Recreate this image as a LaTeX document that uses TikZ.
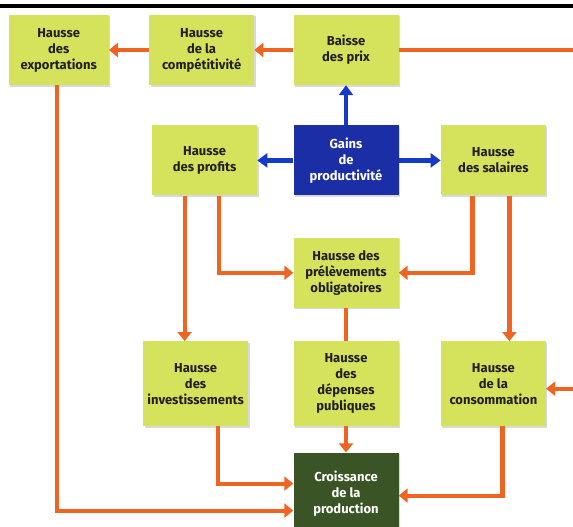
\documentclass[tikz,border=0pt]{standalone}
\usepackage{fontspec}
\setmainfont{Fira Sans}
\usepackage{xcolor}
\usepackage{tikz}
\usetikzlibrary{arrows.meta,positioning,shadows}

\definecolor{lime}{RGB}{213,226,92}
\definecolor{ink}{RGB}{35,31,32}
\definecolor{gainblue}{RGB}{28,46,165}
\definecolor{arrblue}{RGB}{22,58,200}
\definecolor{prodgreen}{RGB}{58,84,38}
\definecolor{flow}{RGB}{240,100,35}

\begin{document}
\begin{tikzpicture}[
    x=1pt, y=-1pt,
    font=\bfseries\fontsize{13}{16}\selectfont,
    box/.style={fill=lime, text=ink, align=center, minimum width=105pt, minimum height=70pt, inner sep=2pt,
                drop shadow={shadow xshift=1.5pt, shadow yshift=-1.5pt, opacity=0.3}},
    tallbox/.style={box, minimum height=85pt},
    gain/.style={box, fill=gainblue, text=white},
    prod/.style={box, fill=prodgreen, text=white, minimum height=82pt},
    oarr/.style={-{Triangle[width=14pt,length=9pt]}, draw=flow, line width=4.2pt},
    barr/.style={-{Triangle[width=14pt,length=10pt]}, draw=arrblue, line width=4.2pt},
    link/.style={draw=flow, line width=4.2pt}
]
\useasboundingbox (0,0) rectangle (573,527);
\draw[line width=3.5pt] (0,6) -- (573,6);

\node[box] (baisse) at (346,50) {Baisse\\des prix};
\node[box, left=39pt of baisse] (compet) {Hausse\\de la\\compétitivité};
\node[box, minimum width=100pt, left=40pt of compet] (export) {Hausse\\des\\exportations};

\node[gain, below=40pt of baisse] (gains) {Gains\\de\\productivité};
\node[box, left=36pt of gains] (profits) {Hausse\\des profits};
\node[box, right=42pt of gains] (salaires) {Hausse\\des salaires};

\node[box, below=42pt of gains] (prelev) {Hausse des\\prélèvements\\obligatoires};

\node[tallbox, below=33pt of prelev] (depenses) {Hausse\\des\\dépenses\\publiques};
\node[tallbox, left=45pt of depenses] (invest) {Hausse\\des\\investissements};
\node[tallbox, right=42pt of depenses] (conso) {Hausse\\de la\\consommation};

\node[prod, below=26pt of depenses] (croiss) {Croissance\\de la\\production};

\coordinate (rim) at (577,387);

% top row
\draw[oarr] (baisse) -- (compet);
\draw[oarr] (compet) -- (export);
\draw[oarr] (baisse.east) -| (rim) |- ([yshift=-5pt]conso.east);

% productivity gains
\draw[barr] (gains) -- (baisse);
\draw[barr] (gains) -- (profits);
\draw[barr] (gains) -- (salaires);

% shares
\draw[oarr] ([xshift=-20pt]profits.south) -- ([xshift=-20pt]profits.south |- invest.north);
\draw[oarr] ([xshift=14pt]profits.south) |- (prelev.west);
\draw[oarr] ([xshift=-21pt]salaires.south) |- (prelev.east);
\draw[oarr] ([xshift=16pt]salaires.south) -- ([xshift=16pt]salaires.south |- conso.north);
\draw[link] (prelev) -- (depenses);

% towards production
\draw[oarr] (depenses) -- (croiss);
\draw[oarr] ([xshift=22pt]invest.south) |- ([yshift=10pt]croiss.west);
\draw[oarr] ([xshift=9pt]conso.south) |- ([yshift=-2pt]croiss.east);
\draw[oarr] ([xshift=-2pt]export.south) |- ([yshift=-17pt]croiss.west);
\end{tikzpicture}
\end{document}
